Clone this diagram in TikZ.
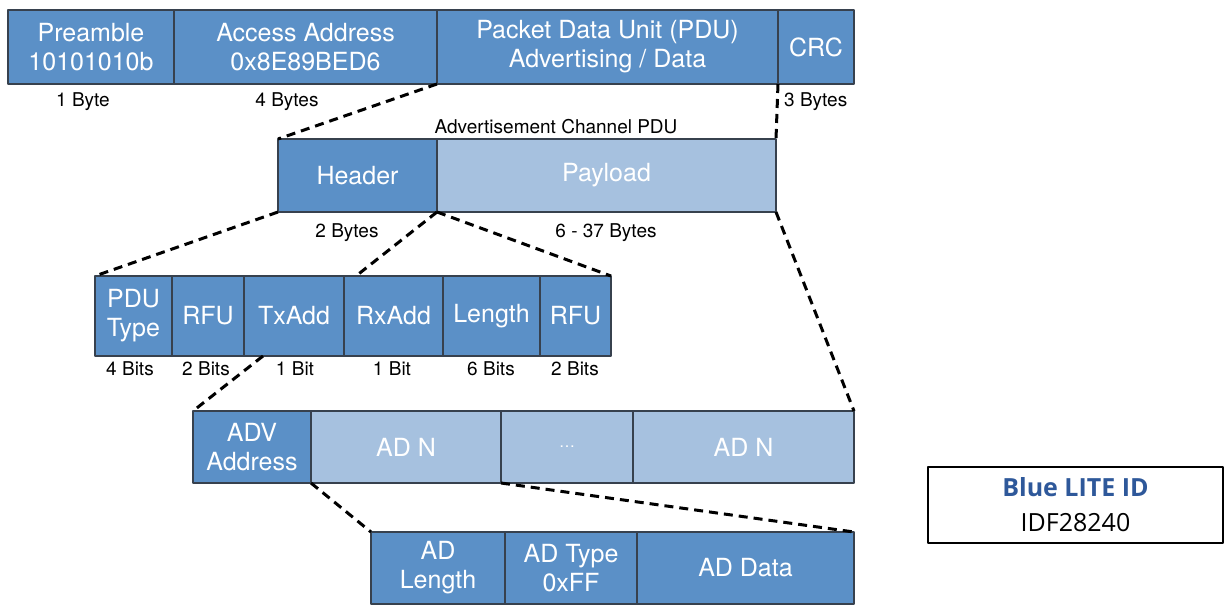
\documentclass[tikz,border=0pt]{standalone}
\usepackage{fontspec}
\setmainfont{TeX Gyre Heros}
\newfontfamily\idfont{Open Sans}
\definecolor{dkblue}{RGB}{91,144,199}
\definecolor{ltblue}{RGB}{166,193,223}
\definecolor{edge}{RGB}{55,65,78}
\definecolor{idblue}{RGB}{46,88,154}
\tikzset{
	field/.style={draw=edge,line width=1.2pt,inner sep=0pt,outer sep=0pt,anchor=north west,align=center,text=white,font=\fontsize{25}{29}\selectfont},
	dkfield/.style={field,fill=dkblue},
	ltfield/.style={field,fill=ltblue},
	size/.style={font=\fontsize{19}{22}\selectfont,text=black,inner sep=0pt},
	zoomline/.style={line width=3pt,dash pattern=on 9pt off 6pt},
	idbox/.style={draw=black,line width=2pt,inner sep=0pt,anchor=north west,align=center,font=\idfont\fontsize{25}{35}\selectfont}
}

\begin{document}
\begin{tikzpicture}[line join=round,x=1pt,y=-1pt]
		\useasboundingbox (0,0) rectangle (1224,606);
		% packet
		\node[dkfield,minimum width=166pt,minimum height=74pt] (pre) at (8,10) {Preamble\\10101010b};
		\node[dkfield,minimum width=263pt,minimum height=74pt] (acc) at (174,10) {Access Address\\0x8E89BED6};
		\node[dkfield,minimum width=341pt,minimum height=74pt] (pdu) at (437,10) {Packet Data Unit (PDU)\\Advertising / Data};
		\node[dkfield,minimum width=76pt,minimum height=74pt] (crc) at (778,10) {CRC};
		\node[size] (b1) at (83,102) {1 Byte};
		\node[size] (b4) at (287,102) {4 Bytes};
		\node[size,anchor=west] (b3) at (784,102) {3 Bytes};
		% advertisement channel pdu
		\node[size] (advch) at (556,127) {Advertisement Channel PDU};
		\node[dkfield,minimum width=159pt,minimum height=73pt] (hdr) at (278,139) {Header};
		\node[ltfield,minimum width=339pt,minimum height=73pt] (pay) at (437,139) {Payload};
		\node[size] (b2) at (347,233) {2 Bytes};
		\node[size] (b637) at (606,233) {6 - 37 Bytes};
		% header bits
		\node[dkfield,minimum width=77pt,minimum height=80pt] (pdutype) at (95,276) {PDU\\Type};
		\node[dkfield,minimum width=72pt,minimum height=80pt] (rfua) at (172,276) {RFU};
		\node[dkfield,minimum width=100pt,minimum height=80pt] (txadd) at (244,276) {TxAdd};
		\node[dkfield,minimum width=99pt,minimum height=80pt] (rxadd) at (344,276) {RxAdd};
		\node[dkfield,minimum width=97pt,minimum height=80pt] (len) at (443,276) {Length};
		\node[dkfield,minimum width=71pt,minimum height=80pt] (rfub) at (540,276) {RFU};
		\node[size] (s1) at (130,369) {4 Bits};
		\node[size] (s2) at (206,369) {2 Bits};
		\node[size] (s3) at (295,369) {1 Bit};
		\node[size] (s4) at (392,369) {1 Bit};
		\node[size] (s5) at (491,369) {6 Bits};
		\node[size] (s6) at (575,369) {2 Bits};
		% payload
		\node[dkfield,minimum width=118pt,minimum height=72pt] (adv) at (193,411) {ADV\\Address};
		\node[ltfield,minimum width=190pt,minimum height=72pt] (adna) at (311,411) {AD N};
		\node[ltfield,minimum width=132pt,minimum height=72pt] (dots) at (501,411) {\fontsize{16}{20}\selectfont\dots};
		\node[ltfield,minimum width=221pt,minimum height=72pt] (adnb) at (633,411) {AD N};
		% ad structure
		\node[dkfield,minimum width=134pt,minimum height=72pt] (adlen) at (371,532) {AD\\Length};
		\node[dkfield,minimum width=132pt,minimum height=72pt] (adtype) at (505,532) {AD Type\\0xFF};
		\node[dkfield,minimum width=217pt,minimum height=72pt] (addata) at (637,532) {AD Data};
		% zoom lines
		\draw[zoomline] (pdu.south west) -- (hdr.north west);
		\draw[zoomline] (crc.south west) -- (pay.north east);
		\draw[zoomline] (hdr.south west) -- (pdutype.north west);
		\draw[zoomline] (hdr.south east) -- ([xshift=12pt]rxadd.north west);
		\draw[zoomline] (hdr.south east) -- (rfub.north east);
		\draw[zoomline] (pay.south east) -- (adnb.north east);
		\draw[zoomline] ([xshift=19pt]txadd.south west) -- (adv.north west);
		\draw[zoomline] (adv.south east) -- (adlen.north west);
		\draw[zoomline] (adna.south east) -- (addata.north east);
		% id tag
		\node[idbox,minimum width=295pt,minimum height=76pt] (idtag) at (927,466) {{\bfseries\color{idblue}Blue LITE ID}\\IDF28240};
	\end{tikzpicture}
\end{document}
